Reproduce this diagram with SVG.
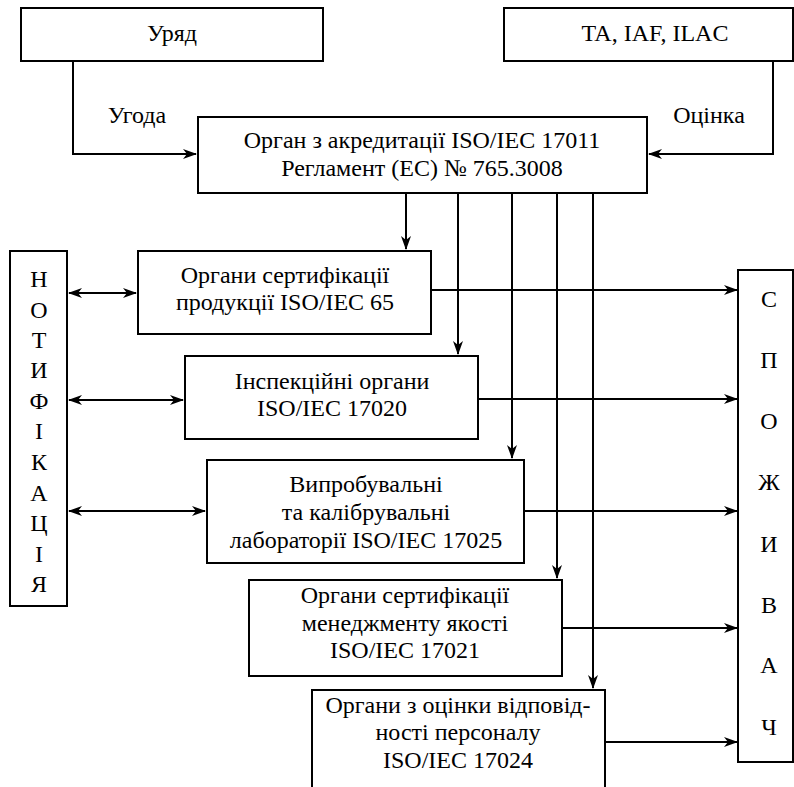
<svg xmlns="http://www.w3.org/2000/svg" width="794" height="787" viewBox="0 0 794 787">
  <defs>
    <marker id="arr" viewBox="0 0 14 10" refX="13" refY="5" markerWidth="14" markerHeight="10" markerUnits="userSpaceOnUse" orient="auto-start-reverse">
      <path d="M0,0 L14,5 L0,10 L4,5 Z" fill="#000"/>
    </marker>
    <style>
      .box { fill: #fff; stroke: #000; stroke-width: 2; }
      .ln { fill: none; stroke: #000; stroke-width: 2; }
      .t { font-family: "Liberation Serif", Tinos, "DejaVu Serif", serif; font-size: 24px; fill: #000; text-anchor: middle; }
    </style>
  </defs>

  <rect width="794" height="787" fill="#fff"/>

  <!-- connectors -->
  <g id="connectors">
    <path class="ln" d="M73,61 V154 H196" marker-end="url(#arr)"/>
    <path class="ln" d="M773,61 V154 H649" marker-end="url(#arr)"/>
    <path class="ln" d="M406,193 V249" marker-end="url(#arr)"/>
    <path class="ln" d="M458,193 V354" marker-end="url(#arr)"/>
    <path class="ln" d="M512,193 V458" marker-end="url(#arr)"/>
    <path class="ln" d="M557,193 V578" marker-end="url(#arr)"/>
    <path class="ln" d="M593,193 V688" marker-end="url(#arr)"/>
    <path class="ln" d="M69,293 H136" marker-start="url(#arr)" marker-end="url(#arr)"/>
    <path class="ln" d="M69,400 H183" marker-start="url(#arr)" marker-end="url(#arr)"/>
    <path class="ln" d="M69,511 H205" marker-start="url(#arr)" marker-end="url(#arr)"/>
    <path class="ln" d="M431,290 H737" marker-end="url(#arr)"/>
    <path class="ln" d="M478,399 H737" marker-end="url(#arr)"/>
    <path class="ln" d="M524,511 H737" marker-end="url(#arr)"/>
    <path class="ln" d="M562,628 H737" marker-end="url(#arr)"/>
    <path class="ln" d="M605,742 H737" stroke-width="2.5" marker-end="url(#arr)"/>
    <text class="t" x="137" y="123">Угода</text>
    <text class="t" x="709" y="123">Оцінка</text>
  </g>

  <g id="uriad">
    <rect class="box" x="21" y="8" width="302" height="53"/>
    <text class="t" x="172" y="41">Уряд</text>
  </g>

  <g id="ta-iaf-ilac">
    <rect class="box" x="504" y="8" width="289" height="53"/>
    <text class="t" x="655" y="41">TA, IAF, ILAC</text>
  </g>

  <g id="akredytatsiia">
    <rect class="box" x="198" y="117" width="449" height="76"/>
    <text class="t" x="422" y="148">Орган з акредитації ISO/IEC 17011</text>
    <text class="t" x="422" y="176">Регламент (ЕС) № 765.3008</text>
  </g>

  <g id="notyfikatsiia">
    <rect class="box" x="10" y="251" width="57" height="355"/>
    <text class="t" x="39" y="287">Н</text>
    <text class="t" x="39" y="318">О</text>
    <text class="t" x="39" y="348">Т</text>
    <text class="t" x="39" y="378">И</text>
    <text class="t" x="39" y="409">Ф</text>
    <text class="t" x="39" y="439">І</text>
    <text class="t" x="39" y="470">К</text>
    <text class="t" x="39" y="501">А</text>
    <text class="t" x="39" y="531">Ц</text>
    <text class="t" x="39" y="562">І</text>
    <text class="t" x="39" y="592">Я</text>
  </g>

  <g id="spozhyvach">
    <rect class="box" x="738" y="270" width="55" height="492"/>
    <text class="t" x="769" y="307">С</text>
    <text class="t" x="769" y="368">П</text>
    <text class="t" x="769" y="429">О</text>
    <text class="t" x="769" y="490">Ж</text>
    <text class="t" x="769" y="552">И</text>
    <text class="t" x="769" y="613">В</text>
    <text class="t" x="769" y="673">А</text>
    <text class="t" x="769" y="735">Ч</text>
  </g>

  <g id="sert-produktsii">
    <rect class="box" x="138" y="251" width="293" height="83"/>
    <text class="t" x="285" y="283">Органи сертифікації</text>
    <text class="t" x="285" y="310">продукції ISO/IEC 65</text>
  </g>

  <g id="inspektsiini">
    <rect class="box" x="185" y="356" width="293" height="83"/>
    <text class="t" x="332" y="389">Інспекційні органи</text>
    <text class="t" x="332" y="416">ISO/IEC 17020</text>
  </g>

  <g id="laboratorii">
    <rect class="box" x="207" y="460" width="317" height="103"/>
    <text class="t" x="366" y="492">Випробувальні</text>
    <text class="t" x="366" y="520">та калібрувальні</text>
    <text class="t" x="366" y="548">лабораторії ISO/IEC 17025</text>
  </g>

  <g id="sert-menedzhmentu">
    <rect class="box" x="249" y="580" width="313" height="96"/>
    <text class="t" x="405" y="603">Органи сертифікації</text>
    <text class="t" x="405" y="631">менеджменту якості</text>
    <text class="t" x="405" y="658">ISO/IEC 17021</text>
  </g>

  <g id="personal">
    <path class="box" d="M312,790 V690 H605 V790"/>
    <text class="t" x="458" y="713">Органи з оцінки відповід-</text>
    <text class="t" x="458" y="740">ності персоналу</text>
    <text class="t" x="458" y="768">ISO/IEC 17024</text>
  </g>
</svg>
